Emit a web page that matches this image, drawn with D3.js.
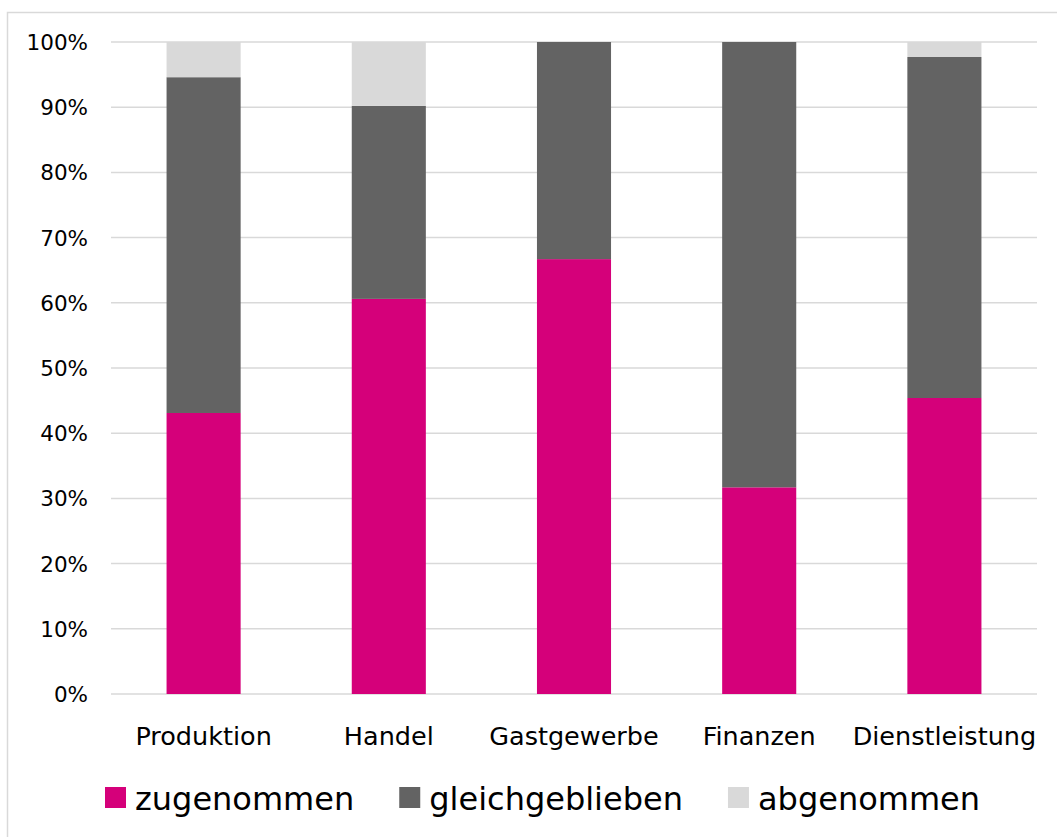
<!DOCTYPE html>
<html>
<head>
<meta charset="utf-8">
<script src="https://cdn.jsdelivr.net/npm/d3@7"></script>
<style>
  body { margin: 0; background: #fff; }
  text { font-family: "DejaVu Sans", Verdana, sans-serif; fill: #000; }
</style>
</head>
<body>
<div id="chart"></div>
<script>
// categories and series (percent shares)
var categories = ["Produktion", "Handel", "Gastgewerbe", "Finanzen", "Dienstleistung"];
var seriesNames = ["zugenommen", "gleichgeblieben", "abgenommen"];
var zugenommen = [43.1, 60.6, 66.7, 31.7, 45.4];
var gleichgeblieben = [51.5, 29.6, 33.3, 68.3, 52.3];
var abgenommen = [5.4, 9.8, 0, 0, 2.3];
var yTicks = [0, 10, 20, 30, 40, 50, 60, 70, 80, 90, 100];
var colors = ["#d5007a", "#636363", "#d9d9d9"];

var W = 1057, H = 837;
var svg = d3.select("#chart").append("svg")
    .attr("width", W)
    .attr("height", H);

// outer frame
svg.append("rect")
    .attr("x", 7.5).attr("y", 12.5)
    .attr("width", W + 10).attr("height", H + 10)
    .attr("fill", "none")
    .attr("stroke", "#d9d9d9")
    .attr("stroke-width", 1.5);

var x = d3.scaleBand()
    .domain(categories)
    .range([111, 1037]);

var y = d3.scaleLinear()
    .domain([0, 100])
    .range([694, 42]);

// gridlines
svg.append("g")
  .selectAll("line")
  .data(yTicks)
  .enter()
  .append("line")
    .attr("x1", 111)
    .attr("x2", 1037)
    .attr("y1", function(d) { return y(d); })
    .attr("y2", function(d) { return y(d); })
    .attr("stroke", "#d9d9d9")
    .attr("stroke-width", 1.5);

// y labels
svg.append("g")
  .selectAll("text")
  .data(yTicks)
  .enter()
  .append("text")
    .attr("x", 88)
    .attr("y", function(d) { return y(d); })
    .attr("dy", "0.37em")
    .attr("text-anchor", "end")
    .style("font-size", "21.5px")
    .text(function(d) { return d + "%"; });

// stack the series
var table = categories.map(function(c, i) {
  return { cat: c, zugenommen: zugenommen[i], gleichgeblieben: gleichgeblieben[i], abgenommen: abgenommen[i] };
});
var stacked = d3.stack().keys(seriesNames)(table);

var barW = x.bandwidth() * 0.4;

svg.append("g")
  .selectAll("g")
  .data(stacked)
  .enter()
  .append("g")
    .attr("fill", function(d, i) { return colors[i]; })
  .selectAll("rect")
  .data(function(d) { return d; })
  .enter()
  .append("rect")
    .attr("x", function(d) { return x(d.data.cat) + (x.bandwidth() - barW) / 2; })
    .attr("width", barW)
    .attr("y", function(d) { return y(d[1]); })
    .attr("height", function(d) { return y(d[0]) - y(d[1]); });

// category labels
svg.append("g")
  .selectAll("text")
  .data(categories)
  .enter()
  .append("text")
    .attr("x", function(d) { return x(d) + x.bandwidth() / 2; })
    .attr("y", 745)
    .attr("text-anchor", "middle")
    .style("font-size", "25.5px")
    .text(function(d) { return d; });

// legend
var legend = svg.append("g");
var lx = 105;
seriesNames.forEach(function(name, i) {
  legend.append("rect")
    .attr("x", lx)
    .attr("y", 787)
    .attr("width", 21)
    .attr("height", 21)
    .attr("fill", colors[i]);
  var t = legend.append("text")
    .attr("x", lx + 30)
    .attr("y", 810)
    .style("font-size", "32px")
    .text(name);
  lx += 30 + t.node().getComputedTextLength() + 45;
});
</script>
</body>
</html>
